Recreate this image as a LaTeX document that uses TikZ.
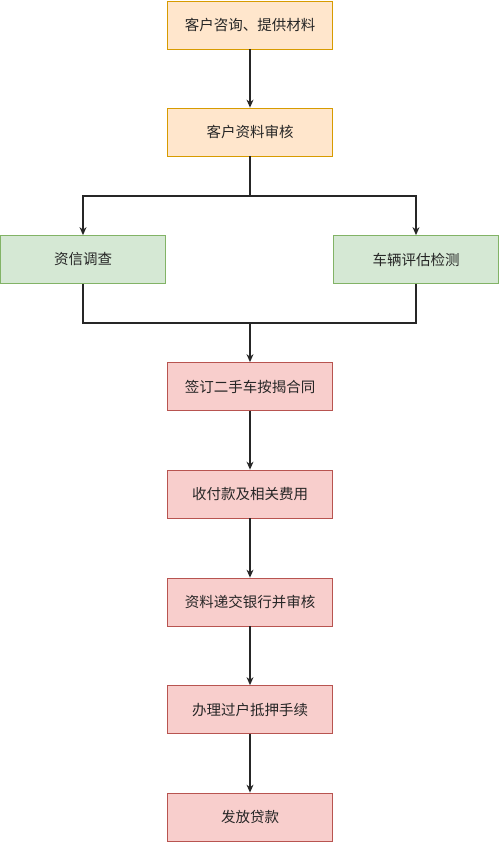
\documentclass[tikz,border=0pt]{standalone}
\usepackage{fontspec}
\setmainfont{Noto Sans CJK SC}
\usetikzlibrary{arrows.meta}
\definecolor{orfill}{HTML}{FFE6CC}
\definecolor{ordraw}{HTML}{D79B00}
\definecolor{grfill}{HTML}{D5E8D4}
\definecolor{grdraw}{HTML}{82B366}
\definecolor{rdfill}{HTML}{F8CECC}
\definecolor{rddraw}{HTML}{B85450}
\begin{document}
\begin{tikzpicture}[scale=1.000000,x=1pt,y=-1pt,
  box/.style={draw, line width=0.8pt, minimum width=165pt, minimum height=48pt,
    inner sep=0pt, font=\fontsize{14.5}{16}\selectfont, text=black!85},
  orbox/.style={box, fill=orfill, draw=ordraw},
  grbox/.style={box, fill=grfill, draw=grdraw},
  rdbox/.style={box, fill=rdfill, draw=rddraw},
  link/.style={draw=black!85, line width=1.1pt},
  >={Stealth[length=8pt,width=7pt]}]
\useasboundingbox[fill=white] (0.000000, 0.000000) rectangle (500.000000, 842.000000);
% Drawing boxes
% Line 1: top of the flow
\node[orbox] (ask) at (250.000000, 25.000000) {客户咨询、提供材料};
\node[orbox] (check) at (250.000000, 132.000000) {客户资料审核};
% Line 2: two checks side by side
\node[grbox] (credit) at (83.000000, 259.500000) {资信调查};
\node[grbox] (car) at (416.000000, 259.500000) {车辆评估检测};
% Line 3: the rest of the flow
\node[rdbox] (sign) at (250.000000, 386.500000) {签订二手车按揭合同};
\node[rdbox] (pay) at (250.000000, 494.000000) {收付款及相关费用};
\node[rdbox] (bank) at (250.000000, 602.000000) {资料递交银行并审核};
\node[rdbox] (mort) at (250.000000, 709.500000) {办理过户抵押手续};
\node[rdbox] (loan) at (250.000000, 817.000000) {发放贷款};
% Done with boxes; drawing links
\coordinate (split) at (250.000000, 196.000000);
\coordinate (merge) at (250.000000, 323.000000);
\draw[link,->] (ask) -- (check);
\draw[link] (check) -- (split);
\draw[link,->] (split) -| (credit);
\draw[link,->] (split) -| (car);
\draw[link] (credit) |- (merge);
\draw[link] (car) |- (merge);
\draw[link,->] (merge) -- (sign);
\draw[link,->] (sign) -- (pay);
\draw[link,->] (pay) -- (bank);
\draw[link,->] (bank) -- (mort);
\draw[link,->] (mort) -- (loan);
% Done with links
\end{tikzpicture}
\end{document}
